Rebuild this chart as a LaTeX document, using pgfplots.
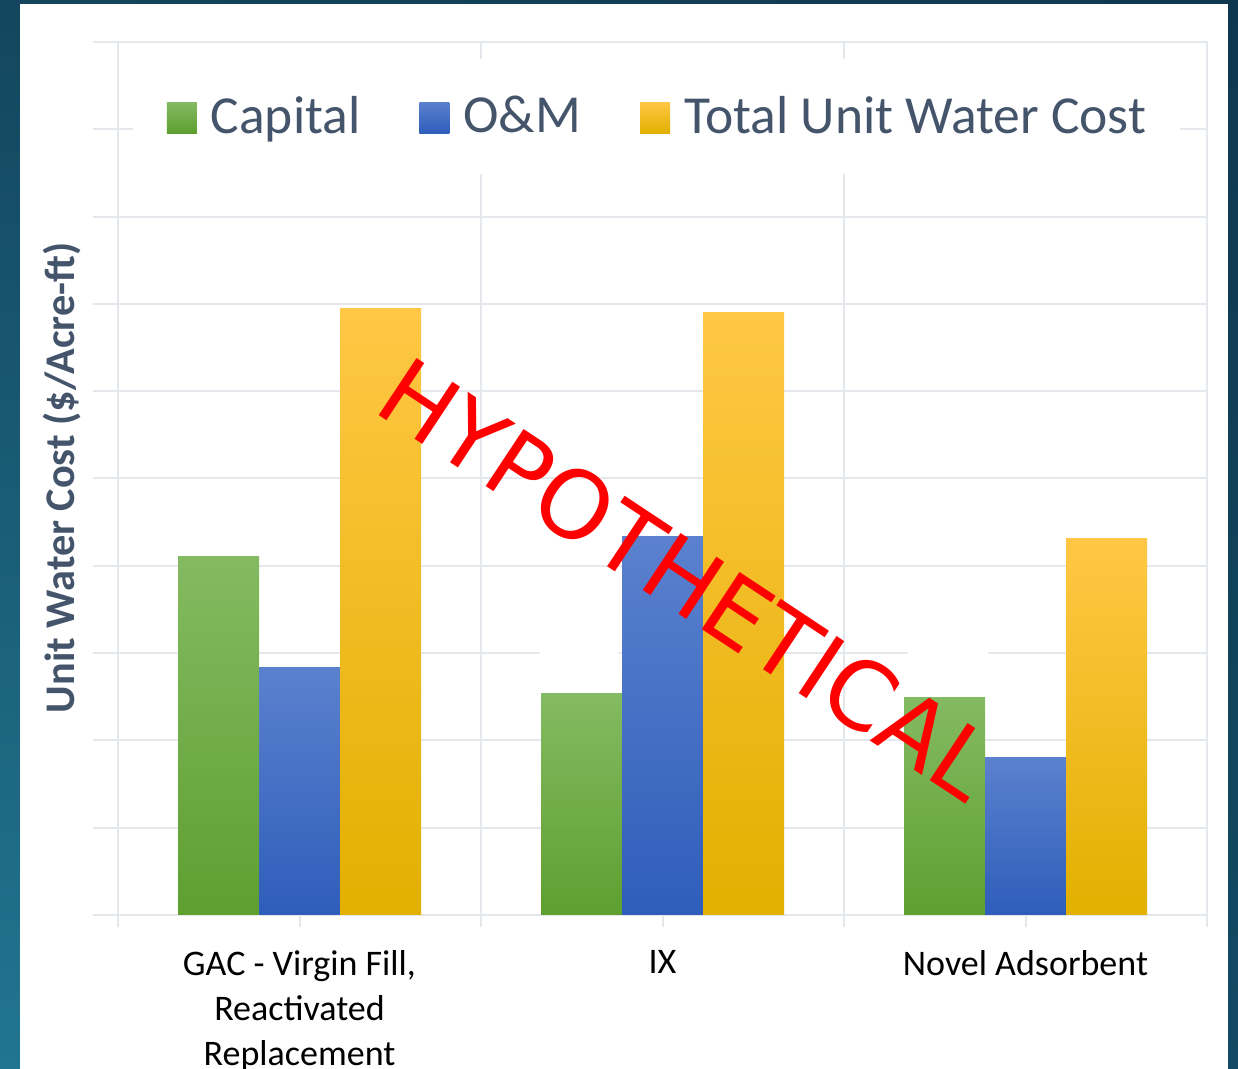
\documentclass[border=0pt]{standalone}
\usepackage{pgfplots}
\pgfplotsset{compat=1.18}
\usepackage{fontspec}
\setmainfont{Carlito}
\newfontfamily\hypofont{DejaVu Sans}
\definecolor{gridc}{HTML}{E4E7EC}
\definecolor{labc}{HTML}{44546A}
\definecolor{gtop}{HTML}{84BA62}
\definecolor{gbot}{HTML}{5E9F30}
\definecolor{btop}{HTML}{5B81CE}
\definecolor{bbot}{HTML}{2E5DBA}
\definecolor{ytop}{HTML}{FFC745}
\definecolor{ymid}{HTML}{FFC000}
\definecolor{ybot}{HTML}{E2B000}
\definecolor{bgA}{HTML}{13465E}
\definecolor{bgB}{HTML}{217590}
\definecolor{bgC}{HTML}{0F3850}
\definecolor{bgD}{HTML}{134B64}
\pgfplotsset{
  capstyle/.style={draw=none, bar shift=-32.4pt, top color=gtop, bottom color=gbot},
  omstyle/.style={draw=none, bar shift=0pt, top color=btop, bottom color=bbot},
  totstyle/.style={draw=none, bar shift=32.4pt, top color=ytop, middle color=ymid, bottom color=ybot},
}
\begin{document}
\begin{tikzpicture}
\useasboundingbox (0,0) rectangle (495.2pt,427.6pt);
\clip (0,0) rectangle (495.2pt,427.6pt);
\shade[top color=bgA,bottom color=bgB] (0,0) rectangle (8pt,427.6pt);
\shade[top color=bgC,bottom color=bgD] (491.2pt,0) rectangle (495.2pt,427.6pt);
\shade[left color=bgA,right color=bgC] (0,426pt) rectangle (495.2pt,427.6pt);
\fill[white] (8pt,0) rectangle (491.2pt,426pt);
\begin{axis}[
  at={(47.2pt,61.6pt)}, anchor=south west,
  scale only axis, width=435.6pt, height=349.2pt,
  xmin=-0.5, xmax=2.5, ymin=0, ymax=10,
  ybar=0pt, bar width=32.4pt,
  axis line style={draw=gridc, line width=0.8pt},
  grid=major, major grid style={draw=gridc, line width=0.8pt},
  tick pos=left,
  ytick={0,1,...,10}, yticklabels={},
  xtick={-0.5,0.5,1.5,2.5}, xticklabels={},
  extra x ticks={0,1,2},
  extra x tick labels={{GAC - Virgin Fill,\\Reactivated\\Replacement},IX,{Novel Adsorbent}},
  extra x tick style={grid=none, major tick length=0pt,
     xticklabel style={font=\fontsize{14.4}{18}\selectfont, align=center, anchor=north, inner sep=0pt, yshift=-14pt, text=black}},
  tick align=outside,
  major tick length=10pt,
  tick style={draw=gridc, line width=0.8pt},
  xtick style={/pgfplots/major tick length=4.8pt},
  ylabel={Unit Water Cost (\$/Acre-ft)},
  ylabel style={at={(rel axis cs:-0.0395,0.5006)}, anchor=base, font=\bfseries\fontsize{16.9}{20}\selectfont, text=labc},
  legend columns=3,
  legend style={at={(rel axis cs:0.4945,0.9146)}, anchor=center, draw=none, fill=white,
     font=\fontsize{21.4}{25}\selectfont, text=labc, inner xsep=13.5pt, inner ysep=14.8pt,
     nodes={inner sep=0pt},
     /tikz/every odd column/.append style={column sep=5.6pt},
     /tikz/every even column/.append style={column sep=23.6pt}},
  legend image code/.code={\path[#1,draw=none] (0pt,-6.6pt) rectangle (12pt,5.8pt);},
]
\fill[white] (axis cs:0.6625,2.967) rectangle (axis cs:0.879,3.035);
\fill[white] (axis cs:1.676,2.967) rectangle (axis cs:1.897,3.035);
% GAC - Virgin Fill, Reactivated Replacement
\addplot[capstyle] coordinates {(0,4.11)};
\addplot[omstyle]  coordinates {(0,2.83)};
\addplot[totstyle] coordinates {(0,6.95)};
% IX
\addplot[capstyle, forget plot] coordinates {(1,2.54)};
\addplot[omstyle, forget plot]  coordinates {(1,4.34)};
\addplot[totstyle, forget plot] coordinates {(1,6.90)};
% Novel Adsorbent
\addplot[capstyle, forget plot] coordinates {(2,2.49)};
\addplot[omstyle, forget plot]  coordinates {(2,1.80)};
\addplot[totstyle, forget plot] coordinates {(2,4.31)};
\legend{Capital, O\&M, Total Unit Water Cost}
\end{axis}
\node[anchor=base, rotate=-33.5, text=red, font=\hypofont\fontsize{37.6}{40}\selectfont, inner sep=0pt] at (267.6pt,184.6pt) {HYPOTHETICAL};
\end{tikzpicture}
\end{document}
